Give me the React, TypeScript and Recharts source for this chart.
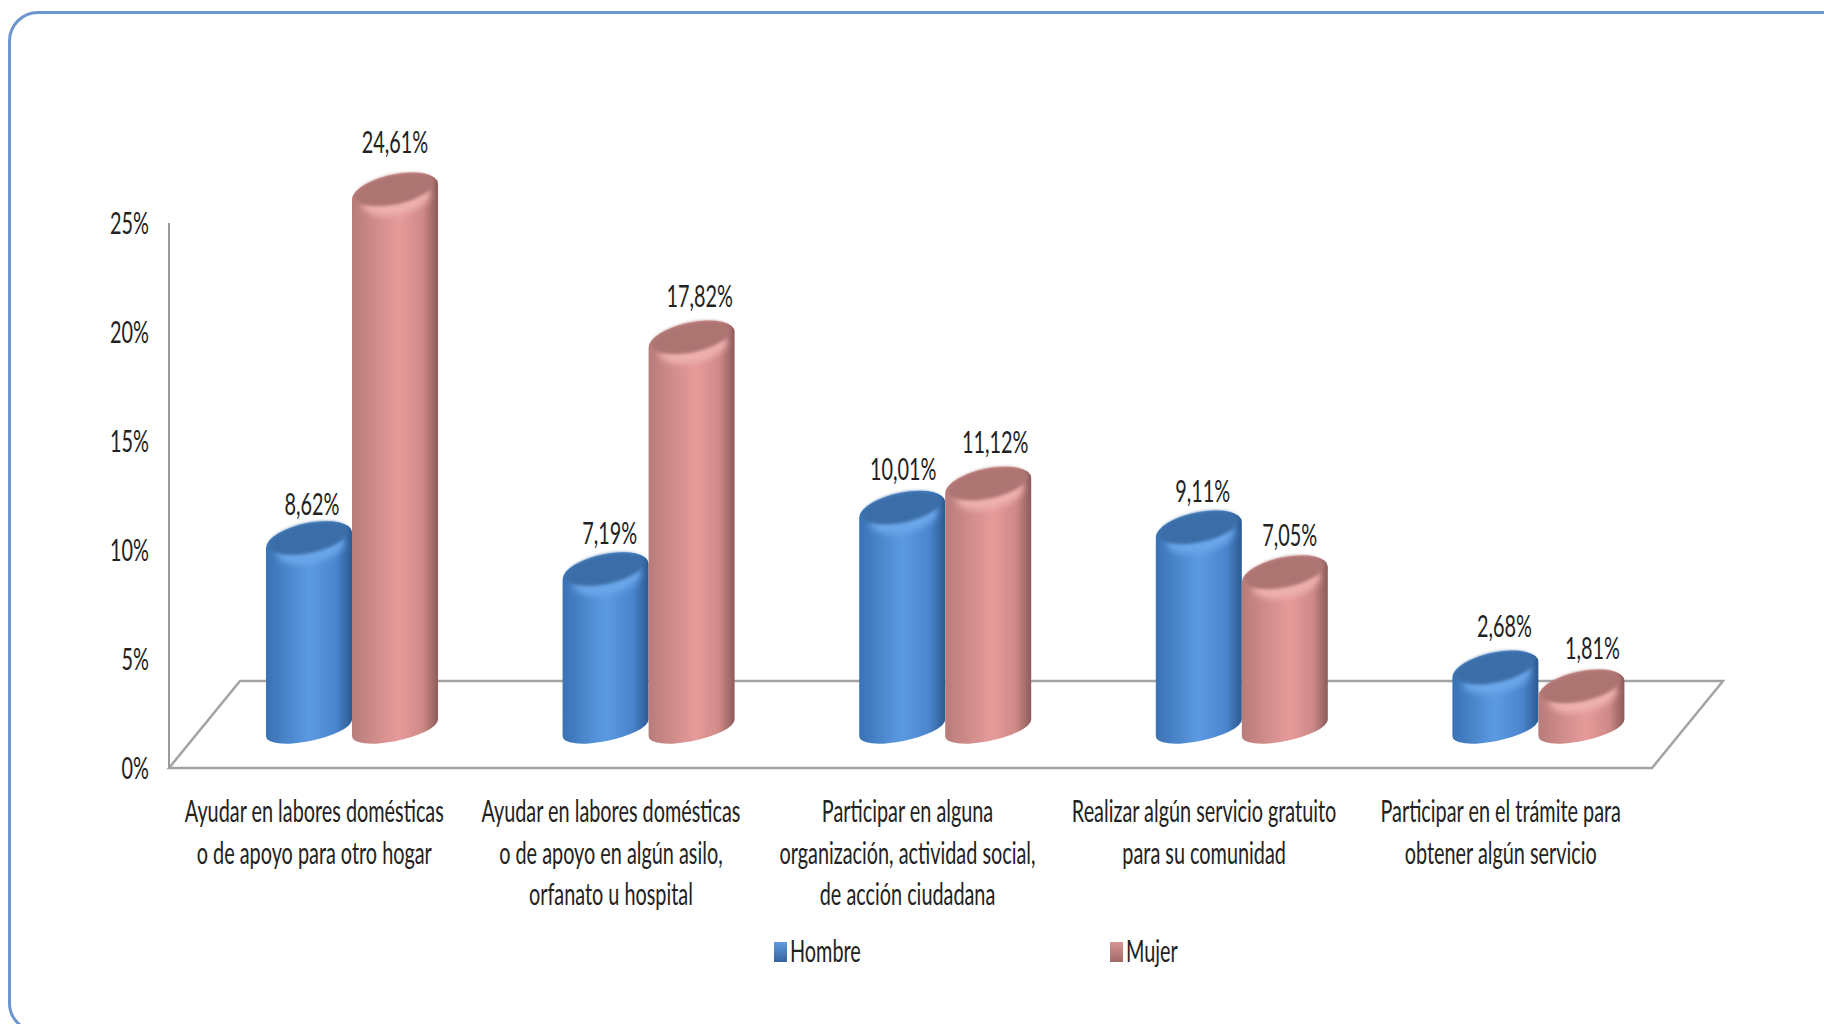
import { BarChart, Bar, XAxis, YAxis, LabelList, Legend, Customized } from "recharts";

const categories = [
  "Ayudar en labores domésticas|o de apoyo para otro hogar",
  "Ayudar en labores domésticas|o de apoyo en algún asilo,|orfanato u hospital",
  "Participar en alguna|organización, actividad social,|de acción ciudadana",
  "Realizar algún servicio gratuito|para su comunidad",
  "Participar en el trámite para|obtener algún servicio",
];
const hombre = [8.62, 7.19, 10.01, 9.11, 2.68];
const mujer = [24.61, 17.82, 11.12, 7.05, 1.81];
const yTicks = [0, 5, 10, 15, 20, 25];

const data = categories.map((name, i) => ({ name, hombre: hombre[i], mujer: mujer[i] }));

// plot box of the front plane, the 3D floor is pushed back by DEPTH_X / DEPTH_Y
const LEFT = 169;
const RIGHT = 1652;
const TOP = 223;
const BOTTOM = 768;
const DEPTH_X = 71;
const DEPTH_Y = 87;
const BAR_DX = 35;
const BAR_DY = 40;
const TILT = -12;
const CAP_RY = 17;
const BASE_RY = 13;

const FONT = "Lato";
const SQUEEZE = 0.64;
const TEXT = "#222222";

// little shifts of the value labels, as in the original
const hombreNudge = [[3, 8], [4, 6], [1, 3], [4, 6], [9, 0]];
const mujerNudge = [[0, -6], [8, 0], [7, 0], [5, 5], [11, 3]];

const tones: Record<string, { cap: string; rim: string }> = {
  blue: { cap: "#3b6ea8", rim: "#6ba6ea" },
  pink: { cap: "#ad7472", rim: "#eeb0ae" },
};

function Squeezed({ x, y, anchor, children }: any) {
  return (
    <g transform={`translate(${x},${y}) scale(${SQUEEZE},1)`}>
      <text textAnchor={anchor} fontFamily={FONT} fontSize={31} fill={TEXT}>
        {children}
      </text>
    </g>
  );
}

// rx for a tilted ellipse of the given half width, and its rightmost point
function tiltedEllipse(half: number, ry: number) {
  const rad = (TILT * Math.PI) / 180;
  const rx = Math.sqrt((half * half - ry * ry * Math.sin(rad) ** 2) / Math.cos(rad) ** 2);
  const t = Math.atan2(-ry * Math.sin(rad), rx * Math.cos(rad));
  const ex = rx * Math.cos(t) * Math.cos(rad) - ry * Math.sin(t) * Math.sin(rad);
  const ey = rx * Math.cos(t) * Math.sin(rad) + ry * Math.sin(t) * Math.cos(rad);
  return { rx, ex, ey };
}

function Cylinder({ x, y, width, height, tone }: any) {
  const half = width / 2;
  const cap = tiltedEllipse(half, CAP_RY);
  const base = tiltedEllipse(half, BASE_RY);
  const cx = x + half + BAR_DX;
  const top = y - BAR_DY;
  const bottom = top + height;
  const body =
    `M${cx - cap.ex} ${top - cap.ey} A${cap.rx} ${CAP_RY} ${TILT} 0 1 ${cx + cap.ex} ${top + cap.ey} ` +
    `L${cx + base.ex} ${bottom + base.ey} A${base.rx} ${BASE_RY} ${TILT} 0 1 ${cx - base.ex} ${bottom - base.ey} Z`;
  const rot = `rotate(${TILT} ${cx} ${top})`;
  return (
    <g>
      <path d={body} fill={`url(#${tone}Body)`} />
      <ellipse cx={cx} cy={top + 8} rx={cap.rx * 0.78} ry={CAP_RY * 0.9} fill={tones[tone].rim} transform={rot} filter="url(#soft)" />
      <ellipse cx={cx} cy={top - 2} rx={cap.rx * 0.92} ry={CAP_RY * 0.88} fill={tones[tone].cap} transform={rot} filter="url(#softer)" />
    </g>
  );
}

function Floor() {
  const d =
    `M${LEFT} ${BOTTOM} L${LEFT + DEPTH_X} ${BOTTOM - DEPTH_Y} L${RIGHT + DEPTH_X} ${BOTTOM - DEPTH_Y} ` +
    `L${RIGHT} ${BOTTOM} Z`;
  return <path d={d} fill="#ffffff" stroke="#a3a3a3" strokeWidth={2.5} strokeLinejoin="miter" />;
}

function YTick({ x, y, payload }: any) {
  return (
    <Squeezed x={x - 12} y={y + 11} anchor="end">
      {payload.value}%
    </Squeezed>
  );
}

function XTick({ x, y, payload }: any) {
  const lines = payload.value.split("|");
  return (
    <g>
      {lines.map((line: string, i: number) => (
        <Squeezed key={i} x={x - 3} y={y + 46 + i * 41.5} anchor="middle">
          {line}
        </Squeezed>
      ))}
    </g>
  );
}

const valueLabel = (nudge: number[][]) => (p: any) => (
  <Squeezed
    x={p.x + p.width / 2 + BAR_DX + nudge[p.index][0]}
    y={p.y - BAR_DY - 33 + nudge[p.index][1]}
    anchor="middle"
  >
    {Number(p.value).toFixed(2).replace(".", ",")}%
  </Squeezed>
);

function LegendBox({ payload }: any) {
  return (
    <div style={{ position: "relative", height: 0, width: 1824 }}>
      {(payload || []).map((item: any, i: number) => (
        <div
          key={item.value}
          style={{
            position: "absolute",
            left: i === 0 ? 774 : 1110,
            top: 0,
            display: "flex",
            alignItems: "center",
            height: 40,
          }}
        >
          <span
            style={{
              display: "block",
              width: 13,
              height: 20,
              background: i === 0 ? "linear-gradient(#5f9be0, #35659f)" : "linear-gradient(#d99593, #a06a68)",
              marginRight: 3,
            }}
          />
          <svg width={90} height={40} style={{ display: "block" }}>
            <Squeezed x={0} y={30} anchor="start">
              {item.value}
            </Squeezed>
          </svg>
        </div>
      ))}
    </div>
  );
}

export default function App() {
  return (
    <div style={{ position: "fixed", left: 0, top: 0, width: 1824, height: 1024, overflow: "hidden", background: "#fff" }}>
      <div
        style={{
          position: "absolute",
          left: 8,
          top: 11,
          width: 1900,
          height: 1022,
          border: "3px solid #6d96cf",
          borderRadius: 30,
          boxSizing: "border-box",
        }}
      />
      <div style={{ position: "absolute", left: 0, top: 0 }}>
        <BarChart
          width={1824}
          height={1024}
          data={data}
          barSize={86}
          barGap={0}
          margin={{ top: TOP, right: 1824 - RIGHT, bottom: 10, left: LEFT - 60 }}
        >
          <defs>
            <linearGradient id="blueBody" x1="0" y1="0" x2="1" y2="0">
              <stop offset="0" stopColor="#3a72b4" />
              <stop offset="0.5" stopColor="#5b9ae2" />
              <stop offset="0.82" stopColor="#4a84cc" />
              <stop offset="1" stopColor="#2c5a90" />
            </linearGradient>
            <linearGradient id="pinkBody" x1="0" y1="0" x2="1" y2="0">
              <stop offset="0" stopColor="#b87c7a" />
              <stop offset="0.55" stopColor="#e69b9a" />
              <stop offset="0.82" stopColor="#cf8a88" />
              <stop offset="1" stopColor="#8c5b5a" />
            </linearGradient>
            <filter id="soft" x="-20%" y="-50%" width="140%" height="200%">
              <feGaussianBlur stdDeviation="3" />
            </filter>
            <filter id="softer" x="-20%" y="-50%" width="140%" height="200%">
              <feGaussianBlur stdDeviation="1.5" />
            </filter>
          </defs>
          <Customized component={<Floor />} />
          <XAxis
            dataKey="name"
            axisLine={false}
            tickLine={false}
            height={246}
            interval={0}
            tick={<XTick />}
          />
          <YAxis
            width={60}
            domain={[0, 25]}
            ticks={yTicks}
            tickLine={false}
            axisLine={{ stroke: "#9a9a9a", strokeWidth: 2 }}
            tick={<YTick />}
          />
          <Legend
            content={<LegendBox />}
            wrapperStyle={{ position: "absolute", left: 0, top: 932, width: 1824 }}
          />
          <Bar
            dataKey="hombre"
            name="Hombre"
            fill="#4f86c6"
            isAnimationActive={false}
            shape={(p: any) => <Cylinder {...p} tone="blue" />}
          >
            <LabelList dataKey="hombre" content={valueLabel(hombreNudge)} />
          </Bar>
          <Bar
            dataKey="mujer"
            name="Mujer"
            fill="#d99593"
            isAnimationActive={false}
            shape={(p: any) => <Cylinder {...p} tone="pink" />}
          >
            <LabelList dataKey="mujer" content={valueLabel(mujerNudge)} />
          </Bar>
        </BarChart>
      </div>
    </div>
  );
}
